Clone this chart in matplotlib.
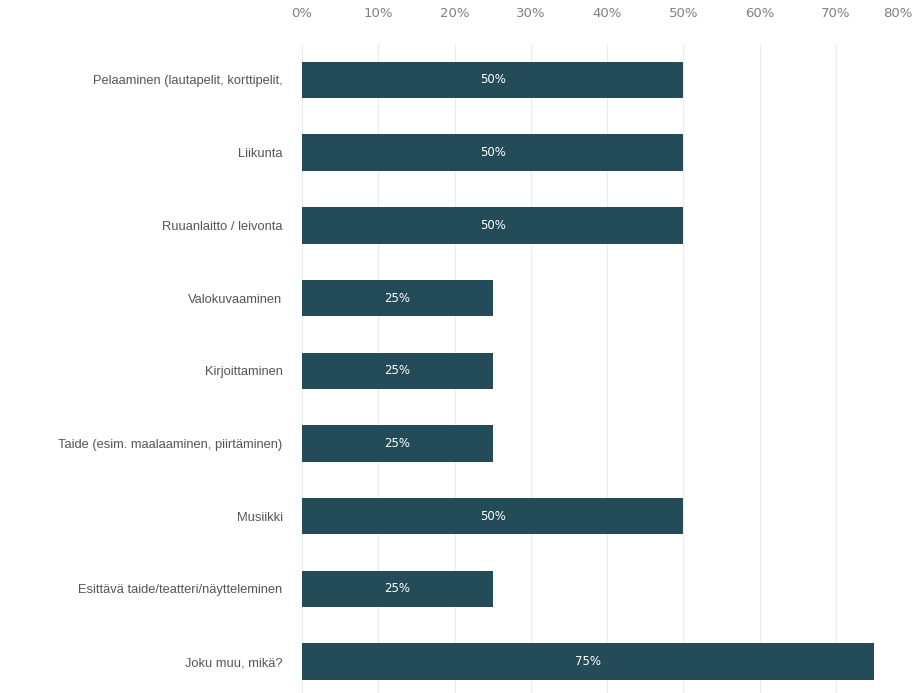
import matplotlib
matplotlib.use("Agg")
import matplotlib.pyplot as plt
from matplotlib.ticker import FuncFormatter

plt.rcParams["font.family"] = ["Liberation Sans", "DejaVu Sans"]

categories = [
    "Pelaaminen (lautapelit, korttipelit,",
    "Liikunta",
    "Ruuanlaitto / leivonta",
    "Valokuvaaminen",
    "Kirjoittaminen",
    "Taide (esim. maalaaminen, piirtäminen)",
    "Musiikki",
    "Esittävä taide/teatteri/näytteleminen",
    "Joku muu, mikä?",
]
values = [0.50, 0.50, 0.50, 0.25, 0.25, 0.25, 0.50, 0.25, 0.75]
xticks = [0.0, 0.1, 0.2, 0.3, 0.4, 0.5, 0.6, 0.7, 0.8]

bar_color = "#234b58"

fig = plt.figure(figsize=(9.16, 6.93), dpi=100)
ax = fig.add_axes([302 / 916, -5 / 693, (912 - 302) / 916, (698 - 43.6) / 693])

y = list(range(len(categories)))
ax.barh(y, values, height=0.5, color=bar_color, zorder=2)

# value labels centred in the bars
for yi, v in zip(y, values):
    ax.text(v / 2, yi, f"{int(round(v * 100))}%", ha="center", va="center",
            color="white", fontsize=8.5, family="DejaVu Sans", zorder=3)

ax.set_xlim(0, 0.8)
ax.set_ylim(len(categories) - 0.5, -0.5)
ax.set_yticks(y)
ax.set_yticklabels(categories, fontsize=9.3, color="#555555")
ax.set_xticks(xticks)
ax.xaxis.set_major_formatter(FuncFormatter(lambda x, _p: f"{int(round(x * 100))}%"))
ax.xaxis.tick_top()
ax.tick_params(axis="x", length=0, pad=17, labelsize=9.5, labelcolor="#808080")
ax.tick_params(axis="y", length=0, pad=14)
for lab in ax.get_xticklabels():
    lab.set_family("DejaVu Sans")
ax.grid(axis="x", color="#ebebeb", linewidth=0.8, zorder=0)
ax.set_axisbelow(True)
for s in ax.spines.values():
    s.set_visible(False)

labels = ax.get_xticklabels()
labels[-1].set_horizontalalignment("right")

fig.savefig("out.png", dpi=100, facecolor="white")
